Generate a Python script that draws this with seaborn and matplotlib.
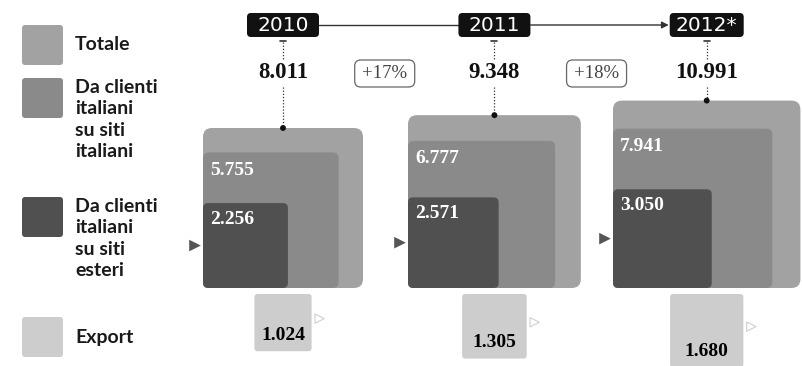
import numpy as np
import pandas as pd
import matplotlib
matplotlib.use("Agg")
import matplotlib.pyplot as plt
from matplotlib.patches import FancyBboxPatch
import seaborn as sns

# ---- data ----
years = ["2010", "2011", "2012*"]
totale = [8011, 9348, 10991]
italiani = [5755, 6777, 7941]
esteri = [2256, 2571, 3050]
export = [1024, 1305, 1680]
growth = ["+17%", "+18%"]
legend_labels = ["Totale", "Da clienti\nitaliani\nsu siti\nitaliani",
                 "Da clienti\nitaliani\nsu siti\nesteri", "Export"]

def fmt(v):
    return f"{v:,}".replace(",", ".")

sns.set_theme(style="white")
plt.rcParams["font.family"] = ["Lato", "DejaVu Sans"]

C_TOT = "#a2a2a2"
C_ITA = "#8a8a8a"
C_EST = "#505050"
C_EXP = "#cdcdcd"

fig = plt.figure(figsize=(8.02, 3.66), dpi=100)
ax = fig.add_axes([0, 0, 1, 1])

# area-proportional scale: side in px per sqrt(unit)
k = 160 / np.sqrt(totale[0])
left0, step, base = 203, 205, 288
exp_top = 294
serif = ["Liberation Serif", "DejaVu Serif"]

def rbox(x, y, w, h, color, r, z=2, ec="none", lw=0):
    ax.add_patch(FancyBboxPatch((x, y), w, h,
                                boxstyle=f"round,pad=0,rounding_size={r}",
                                fc=color, ec=ec, lw=lw, zorder=z))

df = pd.DataFrame(dict(year=years, tot=totale, ita=italiani, est=esteri, exp=export))
df["s_tot"] = k * np.sqrt(df.tot)
df["s_ita"] = k * np.sqrt(df.ita)
df["s_est"] = k * np.sqrt(df.est)
df["s_exp"] = k * np.sqrt(df.exp)
df["left"] = left0 + step * np.arange(len(df))
df["cx"] = df.left + df.s_tot / 2
df["top"] = base - df.s_tot

# dots on top of total squares
sns.scatterplot(data=df, x="cx", y="top", ax=ax, color="#111", s=18,
                edgecolor="none", zorder=5, legend=False)
# dark triangles left of squares
tri = pd.DataFrame(dict(x=df.left - 8, y=base - df.s_est / 2))
sns.scatterplot(data=tri, x="x", y="y", ax=ax, marker=">", color="#555",
                s=70, edgecolor="none", zorder=5, legend=False)
# faint arrows right of export squares
fa = pd.DataFrame(dict(x=df.cx + df.s_exp / 2 + 8, y=exp_top + df.s_exp / 2 - 4))
sns.scatterplot(data=fa, x="x", y="y", ax=ax, marker=">", facecolor="none",
                edgecolor="#cfcfcf", linewidth=0.8, s=45, zorder=5, legend=False)

for i, r in df.iterrows():
    L = r.left
    rbox(L, base - r.s_tot, r.s_tot, r.s_tot, C_TOT, 9)
    rbox(L, base - r.s_ita, r.s_ita, r.s_ita, C_ITA, 6)
    rbox(L, base - r.s_est, r.s_est, r.s_est, C_EST, 5)
    ax.text(L + 7, base - r.s_ita + 18, fmt(r.ita), color="white", fontsize=14,
            fontweight="bold", family=serif, va="center", ha="left", zorder=3)
    ax.text(L + 7, base - r.s_est + 16, fmt(r.est), color="white", fontsize=14,
            fontweight="bold", family=serif, va="center", ha="left", zorder=3)
    # export square
    ex = r.cx - r.s_exp / 2
    rbox(ex, exp_top, r.s_exp, r.s_exp, C_EXP, 3)
    ax.text(r.cx, exp_top + r.s_exp - 16, fmt(r.exp), color="black", fontsize=14,
            fontweight="bold", family=serif, ha="center", va="center", zorder=3)
    # year label
    bw = 72 if len(r.year) == 4 else 74
    rbox(r.cx - bw / 2, 13, bw, 24, "#111111", 4, z=3)
    ax.text(r.cx, 25.5, r.year, color="white", fontsize=14.5, ha="center",
            va="center", zorder=4, family=["DejaVu Sans"])
    # total value
    ax.text(r.cx, 73, fmt(r.tot), color="#111111", fontsize=16.5, fontweight="bold",
            family=serif, ha="center", va="center", zorder=3)
    # tick + dotted connectors
    ax.plot([r.cx - 3, r.cx + 3], [41, 41], color="#333", lw=1.2)
    ax.plot([r.cx, r.cx], [42, 60], color="#333", lw=0.9, ls=(0, (1, 1.5)))
    ax.plot([r.cx, r.cx], [87, r.top], color="#333", lw=0.9, ls=(0, (1, 1.5)))

# timeline connectors
cxs = df.cx.values
ax.plot([cxs[0] + 36, cxs[1] - 36], [25, 25], color="#333", lw=1, zorder=1)
ax.annotate("", xy=(cxs[2] - 38, 25), xytext=(cxs[1] + 36, 25),
            arrowprops=dict(arrowstyle="-|>", color="#333", lw=1,
                            mutation_scale=10, shrinkA=0, shrinkB=0))

# growth boxes
for j, g in enumerate(growth):
    gx = (cxs[j] + cxs[j + 1]) / 2 - 4
    rbox(gx - 30, 60, 60, 27, "white", 6, z=3, ec="#666", lw=0.9)
    ax.text(gx, 73.5, g, color="#444", fontsize=13.5, family=serif, ha="center",
            va="center", zorder=4)

# legend
leg_tops = [25, 78, 197, 317]
leg_cols = [C_TOT, C_ITA, C_EST, C_EXP]
for lt, lc, lab in zip(leg_tops, leg_cols, legend_labels):
    rbox(22, lt, 41, 40, lc, 3)
    if "\n" in lab:
        ax.text(75, lt + 1, lab, fontsize=14, fontweight="bold", color="#1a1a1a",
                ha="left", va="top", linespacing=1.32)
    else:
        ax.text(75, lt + 20, lab, fontsize=14, fontweight="bold", color="#1a1a1a",
                ha="left", va="center")

ax.set_xlim(0, 802)
ax.set_ylim(366, 0)
ax.axis("off")
fig.savefig("out.png", dpi=100, facecolor="white")
